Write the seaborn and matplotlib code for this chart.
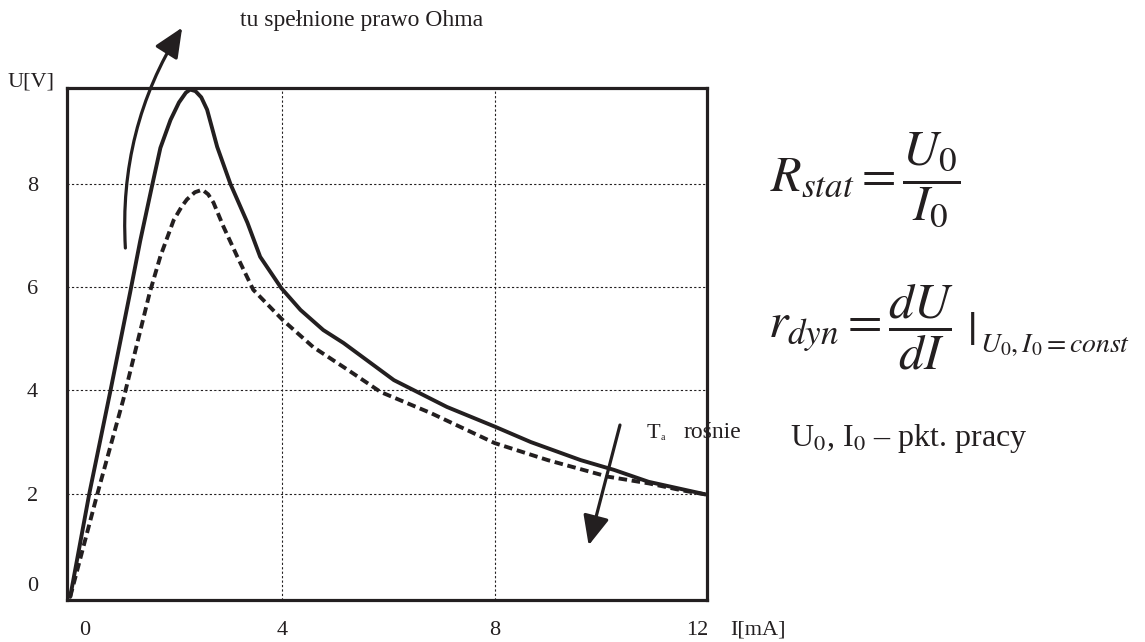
import matplotlib as mpl
mpl.use('Agg')
import matplotlib.pyplot as plt
import matplotlib.transforms as mtransforms
import pandas as pd
import seaborn as sns


# solid curve (lower ambient temperature)
solid_current = [0, 0.36, 0.75, 1.13, 1.32, 1.55, 1.70, 1.89, 2.05, 2.18, 2.26, 2.36, 2.47,
                 2.58, 2.77, 3.02, 3.34, 3.58, 3.98, 4.34, 4.77, 5.15, 6.1, 7.1, 8.0,
                 8.68, 9.62, 10.25, 10.9, 12.0]
solid_voltage = [0, 2.0, 3.95, 5.9, 6.9, 8.0, 8.7, 9.24, 9.58, 9.77, 9.83, 9.8, 9.68,
                 9.44, 8.72, 8.0, 7.25, 6.59, 5.98, 5.56, 5.17, 4.92, 4.2, 3.68, 3.3,
                 3.0, 2.65, 2.46, 2.23, 1.98]

# dashed curve (higher ambient temperature)
dashed_current = [0, 0.5, 1.0, 1.5, 1.7, 1.95, 2.1, 2.2, 2.35, 2.49, 2.6, 2.7, 2.89,
                  3.15, 3.45, 4.0, 4.58, 5.23, 5.85, 6.8, 8.0, 9.0, 10.13, 10.9, 11.5, 12.0]
dashed_voltage = [0, 1.95, 3.82, 5.9, 6.6, 7.3, 7.56, 7.7, 7.84, 7.89, 7.8, 7.64, 7.17,
                  6.59, 5.95, 5.37, 4.84, 4.40, 3.97, 3.56, 2.98, 2.65, 2.33, 2.2, 2.07, 1.98]

x_ticks = [0, 4, 8, 12]
y_ticks = [0, 2, 4, 6, 8]

INK = '#231f20'
W, H = 1145, 642


def main():

    sns.set_theme(style='white')
    plt.rcParams['font.family'] = ['Liberation Serif', 'DejaVu Serif']
    plt.rcParams['mathtext.fontset'] = 'stix'

    fig = plt.figure(figsize=(W / 100, H / 100), dpi=100)
    ax = fig.add_axes([67 / W, 1 - 600 / H, 640 / W, 512 / H])

    solid_df = pd.DataFrame({'I': solid_current, 'U': solid_voltage})
    dashed_df = pd.DataFrame({'I': dashed_current, 'U': dashed_voltage})

    sns.lineplot(data=solid_df, x='I', y='U', ax=ax, color=INK, lw=2.8,
                 estimator=None, sort=False)
    sns.lineplot(data=dashed_df, x='I', y='U', ax=ax, color=INK, lw=2.8,
                 estimator=None, sort=False, linestyle=(0, (2.2, 1.2)))

    # Axes frame and grid.
    ax.set_xlim(-0.06, 12.0)
    ax.set_ylim(-0.06, 9.86)
    ax.set_xticks(x_ticks)
    ax.set_yticks(y_ticks)
    ax.set_xlabel('')
    ax.set_ylabel('')
    ax.grid(True, color=INK, lw=0.8, linestyle=(0, (2, 2)))
    ax.get_xgridlines()[0].set_visible(False)
    ax.get_ygridlines()[0].set_visible(False)
    for spine in ax.spines.values():
        spine.set_linewidth(2.3)
        spine.set_color(INK)
        spine.set_zorder(5)
    ax.tick_params(length=0, labelsize=16, labelcolor=INK)
    ax.tick_params(axis='x', pad=15)
    ax.tick_params(axis='y', pad=21)

    # nudge a few tick labels like in the drawing
    fig.canvas.draw()
    ax.get_yticklabels()[0].set_transform(
        ax.get_yticklabels()[0].get_transform() + mtransforms.ScaledTranslation(0, 13 / 100, fig.dpi_scale_trans))
    ax.get_xticklabels()[0].set_transform(
        ax.get_xticklabels()[0].get_transform() + mtransforms.ScaledTranslation(15 / 100, 0, fig.dpi_scale_trans))
    ax.get_xticklabels()[-1].set_transform(
        ax.get_xticklabels()[-1].get_transform() + mtransforms.ScaledTranslation(-10 / 100, 0, fig.dpi_scale_trans))

    # Axis labels.
    fig.text(8 / W, 1 - 87 / H, 'U[V]', fontsize=16, color=INK, va='baseline')
    fig.text(730 / W, 1 - 635 / H, 'I[mA]', fontsize=16, color=INK, va='baseline')

    # Arrows.
    head = '-|>,head_length=0.9,head_width=0.4'
    ax.annotate('', xy=(2.11, 11.03), xytext=(1.04, 6.76), annotation_clip=False,
                arrowprops=dict(arrowstyle=head, mutation_scale=20, lw=2.3, color=INK,
                                connectionstyle='arc3,rad=-0.16', shrinkA=0, shrinkB=0))
    ax.annotate('', xy=(9.77, 1.0), xytext=(10.36, 3.33), annotation_clip=False,
                arrowprops=dict(arrowstyle=head, mutation_scale=20, lw=2.3, color=INK,
                                shrinkA=0, shrinkB=0))

    # Annotations.
    fig.text(240 / W, 1 - 26 / H, 'tu spełnione prawo Ohma', fontsize=17, color=INK, va='baseline')
    fig.text(647 / W, 1 - 438 / H, 'T', fontsize=16, color=INK, va='baseline', zorder=6)
    fig.text(661 / W, 1 - 440 / H, 'a', fontsize=7, color=INK, va='baseline', zorder=6)
    fig.text(683 / W, 1 - 438 / H, 'rośnie', fontsize=17, color=INK, va='baseline', zorder=6)

    # Formulas.
    fig.text(770 / W, 1 - 180 / H, r'$R_{stat}=\dfrac{U_0}{I_0}$', fontsize=36, color=INK, va='center')
    fig.text(768 / W, 1 - 327 / H, r'$r_{dyn}=\dfrac{dU}{dI}$', fontsize=36, color=INK, va='center')
    fig.text(967 / W, 1 - 334 / H, r'$|$', fontsize=34, color=INK, va='center')
    fig.text(980 / W, 1 - 352 / H, r'$U_0,I_0=const$', fontsize=20, color=INK, va='baseline')
    fig.text(790 / W, 1 - 446 / H, r'U$_0$, I$_0$ – pkt. pracy', fontsize=23, color=INK, va='baseline')

    plt.savefig('out.png', dpi=100)
    plt.clf()


if __name__ == '__main__':
    main()
